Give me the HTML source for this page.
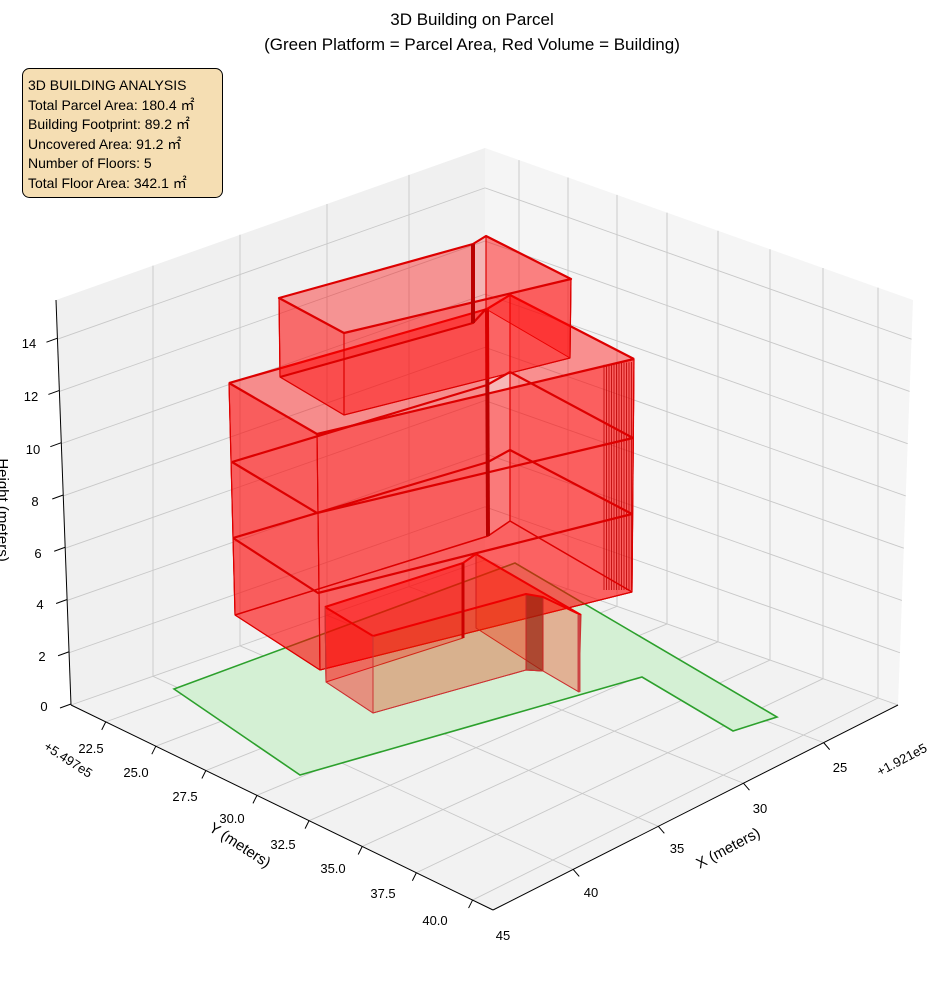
<!DOCTYPE html>
<html><head><meta charset="utf-8"><style>
body{margin:0;background:#fff;}
svg text{font-family:"Liberation Sans",sans-serif;}
</style></head><body>
<svg id="s" width="944" height="992" viewBox="0 0 944 992" xmlns="http://www.w3.org/2000/svg">
<rect width="944" height="992" fill="#fff"/>
<polygon points="56,300 485,148 485,560 71,705" fill="#f0f0f0"/>
<polygon points="485,148 913,300 898,705 485,560" fill="#f5f5f5"/>
<polygon points="71,705 485,560 898,705 493,910" fill="#f2f2f2"/>
<g id="grid" stroke="#c8c8c8" stroke-width="0.9" fill="none"></g>
<g stroke="#000" stroke-width="1" fill="none">
<line x1="56" y1="300" x2="71" y2="705"/>
<line x1="71" y1="705" x2="493" y2="910"/>
<line x1="493" y1="910" x2="898" y2="705"/>
</g>
<g id="ticks" stroke="#000" stroke-width="1"></g>
<!-- parcel -->
<polygon points="174,689 515,563 777,717 733,731 642,677 300,775" fill="#d4f0d4" stroke="#2ca02c" stroke-width="1.6"/>
<!-- middle block -->
<g stroke="#d00" stroke-width="1" stroke-linejoin="round">
<polygon points="229,383 487,309 488,536 235,615" fill="#ff0000" fill-opacity="0.22"/>
<polygon points="510,295 634,359 632,592 510,521" fill="#ff0000" fill-opacity="0.22"/>
<polygon points="235,615 488,536 510,521 632,592 320,670" fill="#ff0000" fill-opacity="0.2"/>
<polygon points="229,383 317,434 320,670 235,615" fill="#ff0000" fill-opacity="0.5"/>
<polygon points="317,434 634,359 632,592 320,670" fill="#ff0000" fill-opacity="0.5"/>
<polygon points="229,383 487,309 510,295 634,359 317,434" fill="#ff0000" fill-opacity="0.25"/>
</g>
<g id="strip" stroke="#b00" stroke-width="0.8"></g>
<g stroke="#d00" stroke-width="2.2" fill="none" stroke-linejoin="round">
<polyline points="229,383 317,434 634,359"/>
<polyline points="229,383 487,309 510,295 634,359"/>
<polyline points="232,462 317,513 633,438"/>
<polyline points="232,462 487,385 510,372 633,438"/>
<polyline points="233,538 318,593 632,514"/>
<polyline points="233,538 488,462 510,450 632,514"/>
<polyline points="235,615 488,536 510,521 632,592" stroke-width="1.5"/>
<line x1="487" y1="309" x2="488" y2="536" stroke="#b00" stroke-width="4"/>
<line x1="510" y1="295" x2="510" y2="521" stroke-width="1.2"/>
</g>
<g stroke="#d00" stroke-width="1.2" fill="none">
<line x1="229" y1="383" x2="235" y2="615"/>
<line x1="317" y1="434" x2="320" y2="670"/>
<line x1="634" y1="359" x2="632" y2="592"/>
<polyline points="235,615 320,670 632,592"/>
</g>
<!-- top block -->
<g stroke="#d00" stroke-width="1" stroke-linejoin="round">
<polygon points="279,298 473,244 473,323 280,377" fill="#ff0000" fill-opacity="0.18"/>
<polygon points="486,236 571,279 570,358 486,309" fill="#ff0000" fill-opacity="0.3"/>
<polygon points="279,298 344,333 344,415 280,377" fill="#ff0000" fill-opacity="0.45"/>
<polygon points="344,333 571,279 570,358 344,415" fill="#ff0000" fill-opacity="0.45"/>
<polygon points="279,298 473,244 486,236 571,279 344,333" fill="#ff0000" fill-opacity="0.25"/>
</g>
<g stroke="#d00" stroke-width="2.2" fill="none" stroke-linejoin="round">
<polygon points="279,298 473,244 486,236 571,279 344,333"/>
<polyline points="280,377 473,323 486,309"/>
<line x1="473" y1="244" x2="473" y2="323" stroke="#b00" stroke-width="4"/>
<line x1="486" y1="236" x2="486" y2="309" stroke-width="1.2"/>
</g>
<g stroke="#d00" stroke-width="1.2" fill="none">
<line x1="279" y1="298" x2="280" y2="377"/>
<line x1="344" y1="333" x2="344" y2="415"/>
<line x1="571" y1="279" x2="570" y2="358"/>
<polyline points="280,377 344,415 570,358"/>
</g>
<!-- low block -->
<g stroke="#c22" stroke-width="1" stroke-linejoin="round">
<polygon points="325,607 463,563 463,638 326,682" fill="#ff0000" fill-opacity="0.25"/>
<polygon points="476,554 581,615 579,692 543,671 476,628" fill="#ff2000" fill-opacity="0.3"/>
<polygon points="325,607 373,636 373,713 326,682" fill="#ff0000" fill-opacity="0.4"/>
<polygon points="373,636 526,594 543,597 543,671 526,670 373,713" fill="#e03000" fill-opacity="0.33"/>
<polygon points="526,594 543,597 543,671 526,670" fill="#8b2010" fill-opacity="0.6"/>
<polygon points="325,607 463,563 476,554 581,615 543,597 526,594 373,636" fill="#ff0000" fill-opacity="0.18"/>
</g>
<g stroke="#e00" stroke-width="2" fill="none" stroke-linejoin="round">
<polyline points="325,607 463,563 476,554 581,615"/>
<polyline points="325,607 373,636 526,594 543,597 581,615"/>
<line x1="463" y1="563" x2="463" y2="638" stroke="#c00" stroke-width="3"/>
<line x1="579" y1="615" x2="579" y2="692" stroke="#c44" stroke-width="3"/>
</g>
<g stroke="#c33" stroke-width="1" fill="none">
<polyline points="326,682 373,713 526,670 543,671 579,692"/>
<line x1="373" y1="636" x2="373" y2="713"/>
<line x1="325" y1="607" x2="326" y2="682"/>
</g>
<!-- labels -->
<g font-size="13" fill="#000" text-anchor="middle">
<text x="29" y="348">14</text><text x="31" y="401">12</text><text x="33" y="454">10</text>
<text x="35" y="506">8</text><text x="38" y="558">6</text><text x="40" y="609">4</text>
<text x="42" y="661">2</text><text x="44" y="711">0</text>
<text x="91" y="753">22.5</text><text x="136" y="777">25.0</text><text x="185" y="801">27.5</text>
<text x="232" y="823">30.0</text><text x="283" y="849">32.5</text><text x="333" y="873">35.0</text>
<text x="383" y="898">37.5</text><text x="435" y="925">40.0</text>
<text x="840" y="772">25</text><text x="760" y="813">30</text><text x="677" y="853">35</text>
<text x="591" y="897">40</text><text x="503" y="940">45</text>
<text transform="translate(68,760) rotate(33)" y="4">+5.497e5</text>
<text transform="translate(902,760) rotate(-28)" y="4">+1.921e5</text>
</g>
<g font-size="15" fill="#000" text-anchor="middle">
<text transform="translate(240,845) rotate(33)" y="5">Y (meters)</text>
<text transform="translate(728,848) rotate(-28)" y="5">X (meters)</text>
<text transform="translate(3,510) rotate(90)" y="5">Height (meters)</text>
<text x="472" y="25" font-size="17">3D Building on Parcel</text>
<text x="472" y="50" font-size="17">(Green Platform = Parcel Area, Red Volume = Building)</text>
</g>
<rect x="22.5" y="68.5" width="200" height="129" rx="7" fill="#f5deb3" stroke="#000" stroke-width="1"/>
<g font-size="14" fill="#000">
<text x="28" y="90">3D BUILDING ANALYSIS</text>
<text x="28" y="110">Total Parcel Area: 180.4 ㎡</text>
<text x="28" y="129">Building Footprint: 89.2 ㎡</text>
<text x="28" y="149">Uncovered Area: 91.2 ㎡</text>
<text x="28" y="168">Number of Floors: 5</text>
<text x="28" y="188">Total Floor Area: 342.1 ㎡</text>
</g>
</svg>
<script>
(function(){
var NS="http://www.w3.org/2000/svg";
function L(g,x1,y1,x2,y2){var e=document.createElementNS(NS,"line");e.setAttribute("x1",x1);e.setAttribute("y1",y1);e.setAttribute("x2",x2);e.setAttribute("y2",y2);g.appendChild(e);}
var g=document.getElementById("grid"),t=document.getElementById("ticks"),st=document.getElementById("strip");
var B=[485,560],R=[898,705],F=[493,910],Lc=[71,705];
function lerp(p,q,f){return [p[0]+(q[0]-p[0])*f,p[1]+(q[1]-p[1])*f];}
function P(a,b){var u=lerp(B,R,a),v=lerp(Lc,F,a);return lerp(u,v,b);}
var TL=[56,300],TB=[485,148],TR=[913,300];
[519,568,617,667,718,770,823,878].forEach(function(x){var a=(x-485)/413;var p=P(a,0),q=P(a,1),top=lerp(TB,TR,(x-485)/428);
L(g,p[0],p[1],q[0],q[1]);L(g,p[0],p[1],top[0],top[1]);L(t,q[0],q[1],q[0]-4,q[1]+8);});
[153,240,327,409].forEach(function(x){var b=(485-x)/414;var p=P(0,b),q=P(1,b),top=lerp(TB,TL,(485-x)/429);
L(g,p[0],p[1],q[0],q[1]);L(g,p[0],p[1],top[0],top[1]);L(t,q[0],q[1],q[0]+6,q[1]+7);});
for(var z=0;z<=14;z+=2){var f=z/15.5;var a=lerp(Lc,TL,f),b=lerp(B,TB,f),c=lerp(R,TR,f);
L(g,a[0],a[1],b[0],b[1]);L(g,b[0],b[1],c[0],c[1]);L(t,a[0]-11,a[1]+3,a[0],a[1]-1);}
for(var x=604;x<=632;x+=2.5){L(st,x,362+(632-x)*0.1,x,590);}
})();
</script>
</body></html>
